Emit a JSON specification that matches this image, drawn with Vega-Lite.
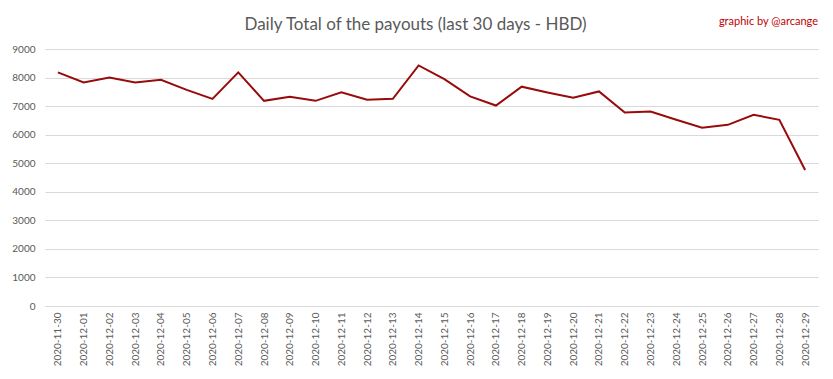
{
  "$schema": "https://vega.github.io/schema/vega-lite/v6.json",
  "width": 773,
  "height": 257,
  "autosize": "none",
  "padding": {"left": 45, "top": 49, "right": 15, "bottom": 73},
  "background": "white",
  "title": {
    "text": "graphic by @arcange",
    "anchor": "end",
    "color": "#c00000",
    "font": "Lato",
    "fontSize": 11,
    "fontWeight": "normal",
    "offset": -12
  },
  "config": {
    "view": {"stroke": null},
    "font": "Lato"
  },
  "data": {
    "values": [
      {"date": "2020-11-30", "value": 8180},
      {"date": "2020-12-01", "value": 7830},
      {"date": "2020-12-02", "value": 8005},
      {"date": "2020-12-03", "value": 7830},
      {"date": "2020-12-04", "value": 7925},
      {"date": "2020-12-05", "value": 7570},
      {"date": "2020-12-06", "value": 7255},
      {"date": "2020-12-07", "value": 8180},
      {"date": "2020-12-08", "value": 7185},
      {"date": "2020-12-09", "value": 7325},
      {"date": "2020-12-10", "value": 7185},
      {"date": "2020-12-11", "value": 7480},
      {"date": "2020-12-12", "value": 7220},
      {"date": "2020-12-13", "value": 7255},
      {"date": "2020-12-14", "value": 8425},
      {"date": "2020-12-15", "value": 7945},
      {"date": "2020-12-16", "value": 7340},
      {"date": "2020-12-17", "value": 7020},
      {"date": "2020-12-18", "value": 7680},
      {"date": "2020-12-19", "value": 7480},
      {"date": "2020-12-20", "value": 7290},
      {"date": "2020-12-21", "value": 7515},
      {"date": "2020-12-22", "value": 6775},
      {"date": "2020-12-23", "value": 6810},
      {"date": "2020-12-24", "value": 6520},
      {"date": "2020-12-25", "value": 6240},
      {"date": "2020-12-26", "value": 6345},
      {"date": "2020-12-27", "value": 6695},
      {"date": "2020-12-28", "value": 6520},
      {"date": "2020-12-29", "value": 4765}
    ]
  },
  "layer": [
    {
      "mark": {"type": "line", "color": "#990a0a", "strokeWidth": 2},
      "encoding": {
        "x": {
          "field": "date",
          "type": "ordinal",
          "sort": null,
          "scale": {"type": "point", "padding": 0.5},
          "axis": {
            "title": null,
            "labelAngle": -90,
            "labelAlign": "right",
            "labelBaseline": "middle",
            "labelFontSize": 10,
            "labelColor": "#595959",
            "labelPadding": 6,
            "ticks": false,
            "domainColor": "#d9d9d9",
            "domainWidth": 1,
            "grid": false
          }
        },
        "y": {
          "field": "value",
          "type": "quantitative",
          "scale": {"domain": [0, 9000], "nice": false},
          "axis": {
            "title": null,
            "values": [0, 1000, 2000, 3000, 4000, 5000, 6000, 7000, 8000, 9000],
            "format": "d",
            "labelFontSize": 10,
            "labelColor": "#595959",
            "labelPadding": 10,
            "ticks": false,
            "domain": false,
            "gridColor": "#d9d9d9",
            "gridWidth": 1
          }
        }
      }
    },
    {
      "mark": {"type": "point", "opacity": 0},
      "encoding": {
        "x": {
          "field": "date",
          "type": "ordinal",
          "sort": null,
          "axis": {
            "orient": "top",
            "title": "Daily Total of the payouts (last 30 days - HBD)",
            "titleFont": "Lato",
            "titleFontSize": 17,
            "titleFontWeight": "normal",
            "titleColor": "#595959",
            "titleX": 370,
            "titlePadding": 16,
            "labels": false,
            "ticks": false,
            "domain": false,
            "grid": false
          }
        }
      }
    }
  ],
  "resolve": {"axis": {"x": "independent"}}
}
